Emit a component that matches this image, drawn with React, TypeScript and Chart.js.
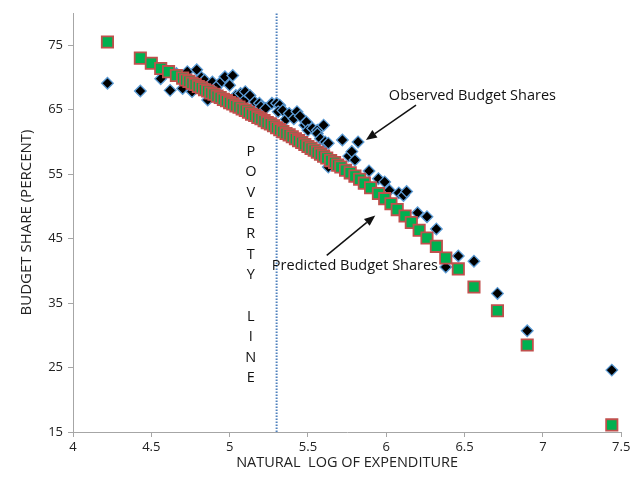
import React, { useEffect, useRef } from "react";
import { Chart, registerables } from "chart.js";
Chart.register(...registerables);

// Predicted budget shares (x = natural log of expenditure, y = percent)
const predictedX = [
  4.22, 4.43, 4.5, 4.56, 4.61, 4.66, 4.7, 4.72, 4.74, 4.76, 4.78, 4.8, 4.82, 4.84, 4.86, 4.88,
  4.9, 4.92, 4.94, 4.96, 4.98, 5.0, 5.02, 5.04, 5.06, 5.08, 5.1, 5.12, 5.14, 5.16, 5.18, 5.2,
  5.22, 5.24, 5.26, 5.28, 5.3, 5.32, 5.34, 5.36, 5.38, 5.4, 5.42, 5.44, 5.46, 5.48, 5.5, 5.52,
  5.54, 5.56, 5.58, 5.6, 5.62, 5.645, 5.67, 5.69, 5.71, 5.74, 5.77, 5.8, 5.83, 5.86, 5.9, 5.95,
  5.99, 6.03, 6.07, 6.12, 6.16, 6.21, 6.26, 6.32, 6.38, 6.46, 6.56, 6.71, 6.9, 7.44,
];
const predictedY = [
  75.5, 73.0, 72.2, 71.4, 70.9, 70.3, 69.9, 69.6, 69.4, 69.1, 68.9, 68.6, 68.4, 68.1, 67.9, 67.6,
  67.4, 67.1, 66.9, 66.6, 66.4, 66.1, 65.9, 65.6, 65.4, 65.1, 64.9, 64.6, 64.3, 64.1, 63.8, 63.6,
  63.3, 63.0, 62.8, 62.5, 62.2, 61.9, 61.6, 61.3, 61.1, 60.8, 60.5, 60.2, 59.9, 59.6, 59.3, 59.0,
  58.7, 58.4, 58.1, 57.8, 57.5, 57.1, 56.8, 56.4, 56.1, 55.6, 55.2, 54.7, 54.2, 53.6, 52.9, 52.0,
  51.2, 50.4, 49.5, 48.5, 47.5, 46.3, 45.1, 43.8, 42.0, 40.3, 37.5, 33.8, 28.5, 16.1,
];

// Observed budget shares
const observedX = [
  4.22, 4.43, 4.56, 4.62, 4.66, 4.7, 4.73, 4.76, 4.79, 4.82, 4.84, 4.86, 4.89, 4.91, 4.93, 4.95,
  4.97, 5.0, 5.02, 5.04, 5.07, 5.1, 5.1, 5.13, 5.16, 5.19, 5.2, 5.23, 5.27, 5.3, 5.32, 5.31,
  5.34, 5.36, 5.38, 5.41, 5.43, 5.45, 5.48, 5.49, 5.5, 5.53, 5.56, 5.56, 5.58, 5.6, 5.61, 5.63,
  5.63, 5.72, 5.76, 5.78, 5.8, 5.82, 5.89, 5.95, 5.99, 6.02, 6.08, 6.11, 6.13, 6.2, 6.26, 6.32,
  6.38, 6.46, 6.56, 6.71, 6.9, 7.44,
];
const observedY = [
  69.1, 67.9, 69.8, 68.0, 70.6, 68.3, 70.9, 67.8, 71.2, 70.0, 69.6, 66.5, 69.3, 68.3, 68.9, 69.4,
  70.1, 68.8, 70.3, 67.2, 67.5, 66.6, 67.8, 67.2, 66.2, 66.0, 65.5, 65.2, 66.0, 66.0, 65.7, 64.7,
  64.9, 63.5, 64.4, 63.6, 64.7, 64.0, 62.6, 63.1, 61.8, 62.1, 61.8, 61.3, 60.5, 62.6, 60.0, 59.8,
  56.1, 60.3, 57.8, 58.5, 57.2, 60.0, 55.5, 54.3, 53.8, 52.5, 52.1, 51.7, 52.3, 49.0, 48.4, 46.5,
  40.6, 42.3, 41.5, 36.5, 30.7, 24.6,
];

const xTicks = [4, 4.5, 5, 5.5, 6, 6.5, 7, 7.5];
const yTicks = [15, 25, 35, 45, 55, 65, 75];
const povertyLineX = 5.3;
const povertyLineY = [15, 80];
const povertyLetters = ["P", "O", "V", "E", "R", "T", "Y", "", "L", "I", "N", "E"];

const FONT = "'Open Sans', 'DejaVu Sans', sans-serif";

const annotationPlugin = {
  id: "annotations",
  afterDatasetsDraw(chart: any) {
    const { ctx, scales } = chart;
    const xs = scales.x;
    const ys = scales.y;
    const px = (v: number) => xs.getPixelForValue(v);
    const py = (v: number) => ys.getPixelForValue(v);
    ctx.save();
    ctx.fillStyle = "#111";
    ctx.font = `14.5px ${FONT}`;
    ctx.textBaseline = "middle";
    ctx.textAlign = "center";
    ctx.fillText("Observed Budget Shares", px(6.55), py(67.2));
    ctx.fillText("Predicted Budget Shares", px(5.8), py(40.7));
    // poverty line letters
    const x0 = px(5.135);
    let y0 = py(58.5);
    for (const ch of povertyLetters) {
      if (ch) ctx.fillText(ch, x0, y0);
      y0 += 20.6;
    }
    const arrow = (x1: number, y1: number, x2: number, y2: number) => {
      const a = px(x1), b = py(y1), c = px(x2), d = py(y2);
      const ang = Math.atan2(d - b, c - a);
      const hl = 11, hw = 4.5;
      const bx = c - Math.cos(ang) * hl, by = d - Math.sin(ang) * hl;
      ctx.strokeStyle = "#111";
      ctx.lineWidth = 1.5;
      ctx.beginPath();
      ctx.moveTo(a, b);
      ctx.lineTo(bx, by);
      ctx.stroke();
      ctx.beginPath();
      ctx.moveTo(c, d);
      ctx.lineTo(bx + Math.sin(ang) * hw, by - Math.cos(ang) * hw);
      ctx.lineTo(bx - Math.sin(ang) * hw, by + Math.cos(ang) * hw);
      ctx.closePath();
      ctx.fill();
    };
    arrow(6.19, 65.7, 5.87, 60.3);
    arrow(5.62, 42.4, 5.93, 48.6);
    ctx.restore();
  },
};

export default function App() {
  const ref = useRef<HTMLCanvasElement>(null);
  useEffect(() => {
    document.body.style.margin = "0";
    const predicted = predictedX.map((x, i) => ({ x, y: predictedY[i] }));
    const observed = observedX.map((x, i) => ({ x, y: observedY[i] }));
    const poverty = povertyLineY.map((y) => ({ x: povertyLineX, y }));
    const chart = new Chart(ref.current!, {
      type: "scatter",
      data: {
        datasets: [
          {
            label: "Poverty line",
            type: "line",
            data: poverty,
            borderColor: "#4f81bd",
            borderWidth: 2,
            borderDash: [1.5, 1.5],
            pointRadius: 0,
            order: 2,
          } as any,
          {
            label: "Observed Budget Shares",
            data: observed,
            pointStyle: "rectRot",
            pointRadius: 5.8,
            backgroundColor: "#000000",
            borderColor: "#5b9bd5",
            borderWidth: 1.3,
            order: 1,
          },
          {
            label: "Predicted Budget Shares",
            data: predicted,
            pointStyle: "rect",
            pointRadius: 8,
            backgroundColor: "#00b050",
            borderColor: "#c0504d",
            borderWidth: 1.8,
            order: 0,
          },
        ],
      },
      options: {
        animation: false,
        responsive: true,
        maintainAspectRatio: false,
        layout: { padding: { top: 13, right: 6, left: 0, bottom: 0 } },
        plugins: { legend: { display: false }, tooltip: { enabled: false } },
        scales: {
          x: {
            type: "linear",
            min: 4,
            max: 7.5,
            afterBuildTicks: (s: any) => {
              s.ticks = xTicks.map((v) => ({ value: v }));
            },
            afterFit: (s: any) => {
              s.height = 52;
              s.paddingLeft = 0;
              s.paddingRight = 0;
            },
            grid: { drawOnChartArea: false, tickLength: 5, color: "#a6a6a6" },
            border: { color: "#a6a6a6" },
            ticks: {
              font: { family: FONT, size: 13 },
              color: "#222",
              padding: 2,
              maxRotation: 0,
              callback: (v: any) => String(v),
            },
            title: {
              display: true,
              text: "NATURAL  LOG OF EXPENDITURE",
              font: { family: FONT, size: 14.5 },
              color: "#222",
              padding: { top: 0, bottom: 12 },
            },
          },
          y: {
            type: "linear",
            min: 15,
            max: 80,
            afterBuildTicks: (s: any) => {
              s.ticks = yTicks.map((v) => ({ value: v }));
            },
            afterFit: (s: any) => {
              s.width = 73;
            },
            grid: { drawOnChartArea: false, tickLength: 5, color: "#a6a6a6" },
            border: { color: "#a6a6a6" },
            ticks: {
              font: { family: FONT, size: 13 },
              color: "#222",
              padding: 5,
              callback: (v: any) => String(v),
            },
            title: {
              display: true,
              text: "BUDGET SHARE (PERCENT)",
              font: { family: FONT, size: 15 },
              color: "#222",
              padding: { top: 18, bottom: 0 },
            },
          },
        },
      },
      plugins: [annotationPlugin],
    });
    return () => chart.destroy();
  }, []);
  return (
    <div style={{ position: "relative", width: 631, height: 484, background: "#fff" }}>
      <canvas ref={ref} />
    </div>
  );
}
